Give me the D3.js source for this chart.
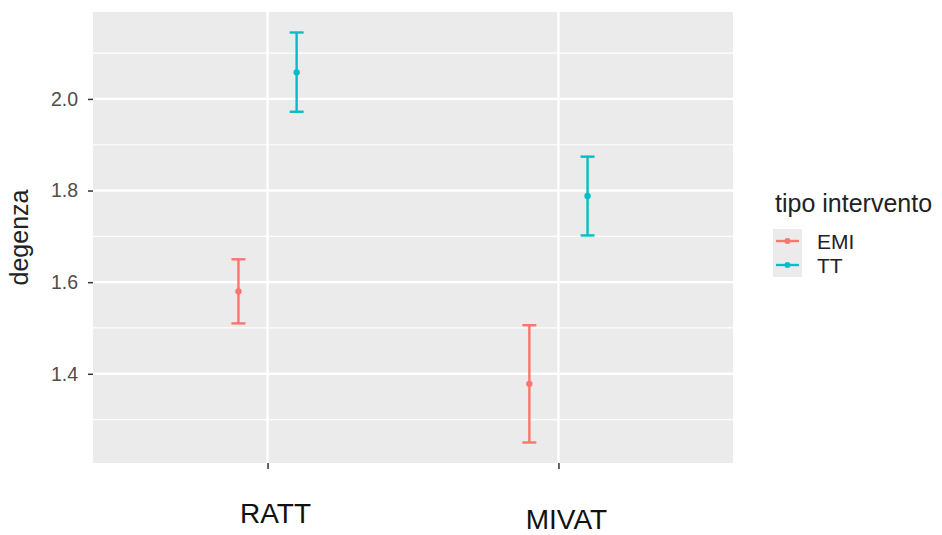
<!DOCTYPE html>
<html>
<head>
<meta charset="utf-8">
<script src="https://cdn.jsdelivr.net/npm/d3@7"></script>
<style>
  body { margin: 0; background: #fff; }
  text { font-family: "Liberation Sans", Arial, sans-serif; }
</style>
</head>
<body>
<div id="chart"></div>
<script>
// data
var groups = ["RATT", "MIVAT"];
var types = ["EMI", "TT"];
var meanEMI = [1.58, 1.378];
var lowEMI = [1.51, 1.25];
var highEMI = [1.65, 1.506];
var meanTT = [2.058, 1.788];
var lowTT = [1.972, 1.702];
var highTT = [2.145, 1.874];
var yTicks = [1.4, 1.6, 1.8, 2.0];
var yMinor = [1.3, 1.5, 1.7, 1.9, 2.1];

var colors = { "EMI": "#F8766D", "TT": "#00BFC4" };

var width = 942, height = 535;
var panel = { left: 93, right: 733, top: 12, bottom: 463 };

var svg = d3.select("#chart").append("svg")
    .attr("width", width)
    .attr("height", height);

// build rows
var rows = [];
groups.forEach(function(g, i) {
    rows.push({ group: g, type: "EMI", mean: meanEMI[i], low: lowEMI[i], high: highEMI[i] });
    rows.push({ group: g, type: "TT", mean: meanTT[i], low: lowTT[i], high: highTT[i] });
});

// scales
var x = d3.scalePoint().domain(groups).range([panel.left, panel.right]).padding(0.6);
var dodge = x.step() * 0.1;
var allVals = lowEMI.concat(lowTT, highEMI, highTT);
var lo = d3.min(allVals), hi = d3.max(allVals), pad = (hi - lo) * 0.05;
var y = d3.scaleLinear().domain([lo - pad, hi + pad]).range([panel.bottom, panel.top]);

function xpos(d) {
    return x(d.group) + (d.type === "EMI" ? -dodge : dodge);
}

// panel
svg.append("rect")
    .attr("x", panel.left).attr("y", panel.top)
    .attr("width", panel.right - panel.left)
    .attr("height", panel.bottom - panel.top)
    .attr("fill", "#EBEBEB");

// minor grid
svg.selectAll(".minor").data(yMinor).enter().append("line")
    .attr("x1", panel.left).attr("x2", panel.right)
    .attr("y1", function(d) { return y(d); })
    .attr("y2", function(d) { return y(d); })
    .attr("stroke", "#fff").attr("stroke-width", 1.2);

// major grid
svg.selectAll(".major").data(yTicks).enter().append("line")
    .attr("x1", panel.left).attr("x2", panel.right)
    .attr("y1", function(d) { return y(d); })
    .attr("y2", function(d) { return y(d); })
    .attr("stroke", "#fff").attr("stroke-width", 2.4);

svg.selectAll(".vgrid").data(groups).enter().append("line")
    .attr("x1", function(d) { return x(d); })
    .attr("x2", function(d) { return x(d); })
    .attr("y1", panel.top).attr("y2", panel.bottom)
    .attr("stroke", "#fff").attr("stroke-width", 2.4);

// y axis
var yAxis = svg.append("g")
    .attr("transform", "translate(" + panel.left + ",0)")
    .call(d3.axisLeft(y).tickValues(yTicks).tickSize(5).tickPadding(10)
        .tickFormat(d3.format(".1f")));
yAxis.select(".domain").remove();
yAxis.selectAll("line").attr("stroke", "#333").attr("stroke-width", 1.5);
yAxis.selectAll("text").attr("fill", "#4D4D4D")
    .style("font-size", "19.5px")
    .style("font-family", "'Liberation Sans', Arial, sans-serif");

// x axis ticks (labels are drawn separately below)
var xAxis = svg.append("g")
    .attr("transform", "translate(0," + panel.bottom + ")")
    .call(d3.axisBottom(x).tickSize(6).tickFormat(""));
xAxis.select(".domain").remove();
xAxis.selectAll("line").attr("stroke", "#333").attr("stroke-width", 1.5);

// x labels, offset like the picture
var labelOffsets = { "RATT": [8, 60], "MIVAT": [8, 66] };
svg.selectAll(".xlab").data(groups).enter().append("text")
    .attr("x", function(d) { return x(d) + labelOffsets[d][0]; })
    .attr("y", function(d) { return panel.bottom + labelOffsets[d][1]; })
    .attr("text-anchor", "middle")
    .attr("fill", "#111")
    .style("font-size", "28px")
    .text(function(d) { return d; });

// y title
svg.append("text")
    .attr("transform", "translate(28," + ((panel.top + panel.bottom) / 2) + ") rotate(-90)")
    .attr("text-anchor", "middle")
    .attr("fill", "#222")
    .style("font-size", "25px")
    .text("degenza");

// error bars
var capHalf = 7;
var bars = svg.selectAll(".bar").data(rows).enter().append("g");
bars.append("line")
    .attr("x1", xpos).attr("x2", xpos)
    .attr("y1", function(d) { return y(d.low); })
    .attr("y2", function(d) { return y(d.high); })
    .attr("stroke", function(d) { return colors[d.type]; })
    .attr("stroke-width", 2.4);
bars.append("line")
    .attr("x1", function(d) { return xpos(d) - capHalf; })
    .attr("x2", function(d) { return xpos(d) + capHalf; })
    .attr("y1", function(d) { return y(d.low); })
    .attr("y2", function(d) { return y(d.low); })
    .attr("stroke", function(d) { return colors[d.type]; })
    .attr("stroke-width", 2.4);
bars.append("line")
    .attr("x1", function(d) { return xpos(d) - capHalf; })
    .attr("x2", function(d) { return xpos(d) + capHalf; })
    .attr("y1", function(d) { return y(d.high); })
    .attr("y2", function(d) { return y(d.high); })
    .attr("stroke", function(d) { return colors[d.type]; })
    .attr("stroke-width", 2.4);
bars.append("circle")
    .attr("cx", xpos)
    .attr("cy", function(d) { return y(d.mean); })
    .attr("r", 3.2)
    .attr("fill", function(d) { return colors[d.type]; });

// legend
var legend = svg.append("g").attr("transform", "translate(773,0)");
legend.append("text")
    .attr("x", 2).attr("y", 212)
    .attr("fill", "#222")
    .style("font-size", "25px")
    .text("tipo intervento");

var keyH = 24;
var keys = legend.selectAll(".key").data(types).enter().append("g")
    .attr("transform", function(d, i) { return "translate(0," + (229 + i * keyH) + ")"; });
keys.append("rect")
    .attr("width", 29).attr("height", keyH)
    .attr("fill", "#EBEBEB");
keys.append("line")
    .attr("x1", 3).attr("x2", 26)
    .attr("y1", keyH / 2).attr("y2", keyH / 2)
    .attr("stroke", function(d) { return colors[d]; })
    .attr("stroke-width", 2.4);
keys.append("circle")
    .attr("cx", 14.5).attr("cy", keyH / 2).attr("r", 3)
    .attr("fill", function(d) { return colors[d]; });
keys.append("text")
    .attr("x", 44).attr("y", keyH / 2)
    .attr("dy", "0.36em")
    .attr("fill", "#222")
    .style("font-size", "21px")
    .text(function(d) { return d; });
</script>
</body>
</html>
